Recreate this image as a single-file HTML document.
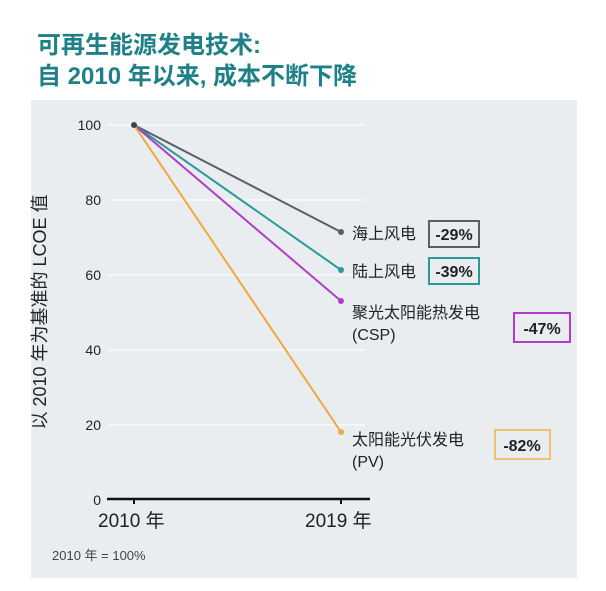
<!DOCTYPE html>
<html><head><meta charset="utf-8"><style>
body{margin:0;background:#fff;width:606px;height:586px;overflow:hidden;font-family:"Liberation Sans","Noto Sans CJK SC",sans-serif}
</style></head><body>
<svg width="606" height="586" xmlns="http://www.w3.org/2000/svg" style="font-family:'Liberation Sans','Noto Sans CJK SC',sans-serif">
<text x="37" y="53" font-size="24" font-weight="bold" fill="#1f8088">可再生能源发电技术:</text>
<text x="37" y="84" font-size="24" font-weight="bold" fill="#1f8088">自  2010  年以来, 成本不断下降</text>
<rect x="31" y="100" width="546" height="478" fill="#e9edf0"/>
<g stroke="#fbfcfc" stroke-width="1.2">
<line x1="108" y1="125" x2="365" y2="125"/><line x1="108" y1="200" x2="365" y2="200"/>
<line x1="108" y1="275" x2="365" y2="275"/><line x1="108" y1="350" x2="365" y2="350"/>
<line x1="108" y1="425" x2="365" y2="425"/>
</g>
<g font-size="14" fill="#222" text-anchor="end">
<text x="101" y="130">100</text><text x="101" y="205">80</text><text x="101" y="280">60</text>
<text x="101" y="355">40</text><text x="101" y="430">20</text><text x="101" y="505">0</text>
</g>
<text transform="translate(46,312) rotate(-90)" font-size="18" fill="#222" text-anchor="middle">以 2010 年为基准的 LCOE 值</text>
<line x1="107" y1="499" x2="370" y2="499" stroke="#111" stroke-width="2.5"/>
<line x1="134" y1="499" x2="134" y2="504" stroke="#111" stroke-width="2"/>
<line x1="341" y1="499" x2="341" y2="504" stroke="#111" stroke-width="2"/>
<text x="98" y="527" font-size="19" fill="#222">2010 年</text>
<text x="305" y="527" font-size="19" fill="#222">2019 年</text>
<text x="52" y="560" font-size="13" fill="#444">2010 年 = 100%</text>
<g stroke-width="2" fill="none">
<line x1="134" y1="125" x2="341" y2="232" stroke="#5a5f66"/>
<line x1="134" y1="125" x2="341" y2="270" stroke="#2a9a98"/>
<line x1="134" y1="125" x2="341" y2="301" stroke="#b13dc6"/>
<line x1="134" y1="125" x2="341" y2="432" stroke="#f0a840"/>
</g>
<circle cx="134" cy="125" r="3" fill="#444"/>
<circle cx="341" cy="232" r="3" fill="#5a5f66"/><circle cx="341" cy="270" r="3" fill="#2a9a98"/>
<circle cx="341" cy="301" r="3" fill="#b13dc6"/><circle cx="341" cy="432" r="3" fill="#f0a840"/>
<g font-size="16" fill="#222">
<text x="352" y="239">海上风电</text>
<text x="352" y="277">陆上风电</text>
<text x="352" y="318">聚光太阳能热发电</text><text x="352" y="340">(CSP)</text>
<text x="352" y="445">太阳能光伏发电</text><text x="352" y="467">(PV)</text>
</g>
<g fill="none" stroke-width="2">
<rect x="429" y="221" width="50" height="26" stroke="#5a5f66"/>
<rect x="429" y="258" width="50" height="26" stroke="#2a9a98"/>
<rect x="514" y="313" width="56" height="29" stroke="#b13dc6"/>
<rect x="495" y="430" width="55" height="29" stroke="#f0c070"/>
</g>
<g font-size="16" font-weight="bold" fill="#222" text-anchor="middle">
<text x="454" y="240">-29%</text><text x="454" y="277">-39%</text>
<text x="542" y="334">-47%</text><text x="522" y="451">-82%</text>
</g>
</svg>
</body></html>
